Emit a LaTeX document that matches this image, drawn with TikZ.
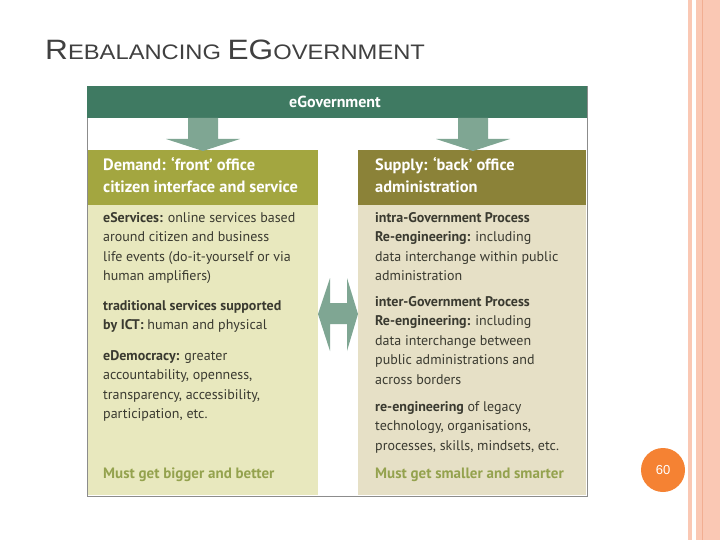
\documentclass[tikz,border=0pt]{standalone}
\usepackage{fontspec}
\setmainfont{PT Sans}
\newfontfamily\titlefont{Liberation Sans}
\definecolor{teal}{HTML}{3F7A62}
\definecolor{olive}{HTML}{A3A640}
\definecolor{dolive}{HTML}{8B8238}
\definecolor{lbody}{HTML}{E8E8BE}
\definecolor{rbody}{HTML}{E6E0C6}
\definecolor{arr}{HTML}{7FA693}
\definecolor{txt}{HTML}{3A3A30}
\definecolor{must}{HTML}{94A24E}
\definecolor{pink}{HTML}{FAC8B4}
\definecolor{dpink}{HTML}{F2AE92}
\definecolor{orange}{HTML}{F58233}
\tikzset{
 body/.style={anchor=north west,inner sep=0pt,align=left,text=txt,font=\fontsize{14}{19.5}\selectfont},
 head/.style={anchor=north west,inner sep=0pt,align=left,text=white,font=\bfseries\fontsize{16.4}{22}\selectfont},
 mustt/.style={anchor=base west,inner sep=0pt,text=must,font=\bfseries\fontsize{15}{16}\selectfont},
}
\begin{document}
\begin{tikzpicture}[x=1pt,y=-1pt]
\useasboundingbox (0,0) rectangle (720,540);
\fill[white] (0,0) rectangle (720,540);
% right stripes
\fill[pink] (688,0) rectangle (692,540);
\fill[pink] (696,0) rectangle (720,540);
\draw[dpink,line width=0.8] (702,0) -- (702,540);
% title
\node[anchor=base west,inner sep=0pt,text=black!75,font=\titlefont,xscale=1.13,transform shape] (title) at (45,60)
 {{\fontsize{28}{28}\selectfont R}{\fontsize{21}{21}\selectfont EBALANCING }{\fontsize{28}{28}\selectfont EG}{\fontsize{21}{21}\selectfont OVERNMENT}};
% outer box
\draw[black!45,line width=0.8] (87,86) rectangle (587,496);
\fill[teal] (87,86) rectangle (587,118);
\node[text=white,font=\bfseries\fontsize{16}{18}\selectfont] (eg) at (335,102) {eGovernment};
\fill[olive] (88,150) rectangle (318,205);
\fill[lbody] (88,205) rectangle (318,495);
\fill[dolive] (358,150) rectangle (586,205);
\fill[rbody] (358,205) rectangle (586,495);
% down arrows
\fill[arr] (188,118) -- (218,118) -- (218,139) -- (240,139) -- (203,151) -- (166,139) -- (188,139) -- cycle;
\fill[arr] (458,118) -- (488,118) -- (488,139) -- (510,139) -- (473,151) -- (436,139) -- (458,139) -- cycle;
% double arrow
\fill[arr] (330,278) -- (330,303) -- (347,303) -- (347,278) -- (358,314) -- (347,351) -- (347,324) -- (330,324) -- (330,351) -- (318,314) -- cycle;
% headers
\node[head] (lh) at (103,157) {Demand: ‘front’ office\\citizen interface and service};
\node[head] (rh) at (375,157) {Supply: ‘back’ office\\administration};
% left body
\node[body] (l1) at (103,212) {\textbf{eServices:} online services based\\around citizen and business\\life events (do-it-yourself or via\\human amplifiers)};
\node[body] (l2) at (103,300) {\textbf{traditional services supported}\\\textbf{by ICT:} human and physical};
\node[body] (l3) at (103,350) {\textbf{eDemocracy:} greater\\accountability, openness,\\transparency, accessibility,\\participation, etc.};
\node[mustt] (lm) at (103,478) {Must get bigger and better};
% right body
\node[body] (r1) at (375,212) {\textbf{intra-Government Process}\\\textbf{Re-engineering:} including\\data interchange within public\\administration};
\node[body] (r2) at (375,296) {\textbf{inter-Government Process}\\\textbf{Re-engineering:} including\\data interchange between\\public administrations and\\across borders};
\node[body] (r3) at (375,401) {\textbf{re-engineering} of legacy\\technology, organisations,\\processes, skills, mindsets, etc.};
\node[mustt] (rm) at (375,478) {Must get smaller and smarter};
% page number
\node[circle,fill=orange,minimum size=44pt,inner sep=0pt,text=white,font=\titlefont\fontsize{13}{13}\selectfont] (pg) at (663,470) {60};
\end{tikzpicture}
\end{document}
